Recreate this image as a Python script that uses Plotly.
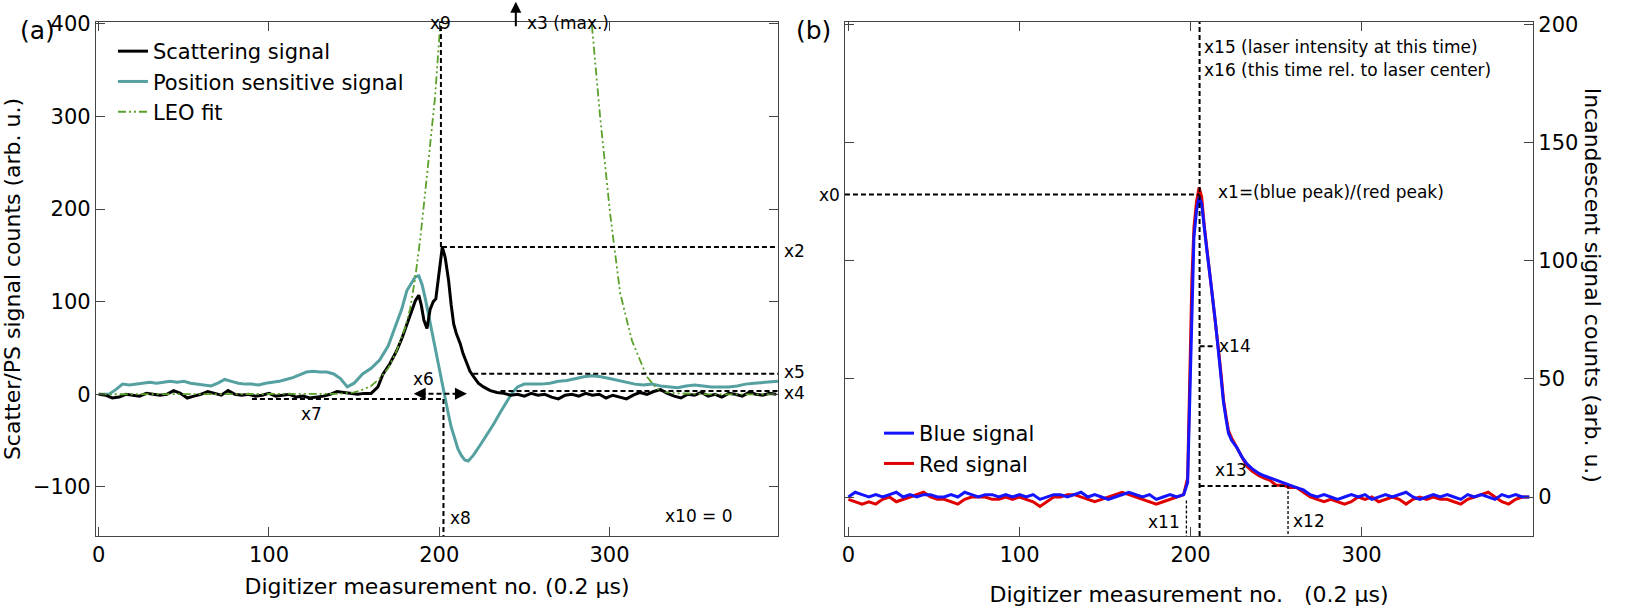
import plotly.graph_objects as go

# ---------------- panel (a): scattering / position sensitive / LEO fit ----------------
scat_x = [0, 4, 8, 12, 16, 20, 24, 28, 32, 36, 40, 44, 48, 52, 56, 60, 64, 68, 72, 76,
          80, 84, 88, 92, 96, 100, 104, 108, 112, 116, 120, 124, 128, 132, 136, 140, 144,
          148, 152, 156, 160,
          164, 167, 171, 175, 178, 181, 184, 186, 188, 189.5, 191, 192.8, 194.7, 196.5, 198,
          200, 201.8, 203.5, 205.5, 207, 208.5, 210, 212.3, 214, 216.3, 218, 220.2, 223, 226,
          230, 234, 238, 242, 246,
          250, 254, 258, 262, 266, 270, 274, 278, 282, 286, 290, 294, 298, 302, 306, 310,
          314, 318, 322, 326, 330, 334, 338, 342, 346, 350, 354, 358, 362, 366, 370, 374,
          378, 382, 386, 390, 394, 398]
scat_y = [0, -1, -4, -3, 0, -1, -2, 1, 0, -1, 0, 4, 1, -4, -2, 0, 3, 1, -1, 4,
          0, -1, 0, -2, -1, 1, -2, -1, 0, -3, -2, -4, -3, -2, 0, 3, 2,
          1, 0, 1, 1,
          8, 22, 33, 47, 60, 76, 92, 101, 107, 96, 80, 71, 92, 100, 103,
          132, 159, 148, 123, 97, 76, 66, 55, 44, 33, 25, 19, 12, 8,
          4, 2, 1, -1, 0,
          -2, 1, -1, 0, -3, -5, -1, 0, -2, 1, -1, 0, -4, -1, -3, -5,
          -1, 2, 0, 3, 5, 1, -2, -4, 0, -1, 2, -2, 0, -3, 1, 0,
          -2, 2, 0, -1, 1, 0]

ps_x = [0, 6, 10, 14, 18, 22, 26, 30, 34, 38, 42, 46, 50, 54, 58, 62, 66, 70, 74, 78,
        82, 86, 90, 94, 98, 102, 106, 110, 114, 118, 122, 126, 130, 134, 138, 142, 146,
        150, 155, 160, 165, 170, 175, 178, 181, 184, 186, 188,
        190, 192, 195, 197, 199, 201, 203, 205, 207, 209, 211, 213, 215, 217, 220, 224,
        228, 232, 236, 240, 243, 246,
        250, 255, 260, 265, 270, 275, 280, 285, 290, 295, 300, 305, 310, 315, 320, 325,
        330, 335, 340, 345, 350, 355, 360, 365, 370, 375, 380, 385, 390, 395, 399]
ps_y = [0, 0, 5, 11, 10, 11, 12, 13, 12, 13, 14, 13, 14, 12, 11, 10, 9, 12, 16, 14,
        12, 11, 11, 10, 12, 13, 14, 16, 18, 21, 24, 25, 24, 24, 22, 17, 8,
        12, 22, 28, 37, 52, 76, 92, 112, 122, 127, 128,
        118, 102, 74, 56, 38, 16, -3, -18, -35, -47, -59, -66, -71, -72, -66, -55,
        -44, -32, -19, -7, 2, 8,
        11, 11, 11, 12, 14, 15, 17, 19, 20, 19, 17, 15, 13, 11, 10, 11,
        9, 8, 7, 9, 10, 9, 8, 8, 8, 9, 11, 12, 13, 14, 14]

# LEO fit leaves the frame between the two branches
leo_x = [0, 30, 60, 90, 120, 140, 150, 155, 160, 165, 170, 175, 180, 183, 186, 188.8,
         192, 195, 197.5, 200.6, None,
         289.7, 294.5, 300.4, 306.3, 313.2, 322, 327.8, 334, 340, 360, 380, 399]
leo_y = [0, 0, 0, 0, 0, 0.5, 2, 5, 9, 17, 28, 47, 72, 93, 127, 167,
         222, 272, 320, 399, None,
         398, 300, 195, 109, 58, 19, 6, 2, 1, 0, 0, 0]

# ---------------- panel (b): incandescence ----------------
inc_x = [0, 4, 8, 12, 16, 20, 24, 28, 32, 36, 40, 44, 48, 52, 56, 60, 64, 68, 72, 76,
         80, 84, 88, 92, 96, 100, 104, 108, 112, 116, 120, 124, 128, 132, 136, 140, 144,
         148, 152, 156, 160, 164, 168, 172, 176, 180, 184, 188, 192, 196,
         198.3, 199.5, 200.8, 202, 203.5, 205, 206.5, 208, 209.6, 211.5, 213, 214.4,
         216.4, 218, 219.3, 221, 222.2, 224, 227, 230, 233, 236, 240, 243, 246.6, 250,
         254, 258, 262, 266, 270,
         274, 278, 282, 286, 290, 294, 298, 302, 306, 310, 314, 318, 322, 326, 330, 334,
         338, 342, 346, 350, 354, 358, 362, 366, 370, 374, 378, 382, 386, 390, 394, 398]
blue_y = [0, 2, 1, 0, 1, 0, 1, 2, 0, 1, 0, 1, 1, 0, 0, 1, 0, 2, 1, 0,
          1, 1, 0, 1, 0, 1, 0, 1, -1, 0, 1, 1, 0, 1, 2, 0, 1,
          0, -1, 0, 1, 2, 1, 0, 1, -1, 0, 1, 0, 1,
          6, 40, 88, 110, 121, 127, 124, 113, 104, 93, 84, 75,
          61, 50, 40, 32, 27, 24, 21, 17, 14, 12, 10, 9, 8, 7,
          6, 5, 4, 3, 1,
          0, 1, 0, -1, 0, 1, 0, 1, -1, 0, 1, 0, 1, 2, 0, -1,
          0, 1, 0, 1, 0, -1, 1, 0, 1, 0, -1, 1, 0, 1, 0, 0]
red_y = [-1, -2, -3, -2, -3, -1, 0, -2, -1, 0, 1, 2, 0, -1, -1, -2, -3, -1, 0, 0,
         0, -1, -1, 0, -1, 0, -1, -2, -4, -2, 0, 0, 1, 1, 0, -1, -2,
         -1, 0, 1, 2, 1, 0, -1, -2, -3, -2, -1, 0, 1,
         8, 44, 92, 114, 125, 131, 127, 115, 105, 94, 85, 75,
         62, 51, 41, 33, 28, 25, 21, 17, 13, 11, 9, 8, 7, 5,
         5, 4, 4, 2, 0,
         -1, -2, -1, -2, -3, -2, 0, -1, 0, -2, -1, 0, -1, -3, -1, 0,
         -1, 0, -1, -1, -2, -3, -1, 0, 1, 2, 0, -2, -3, -1, 0, 0]

# marker positions of the annotated quantities
A_PEAK_X, A_PEAK = 201.6, 159
A_X5, A_X4, A_X7 = 22.3, 3.6, -5
A_X8 = 202.5
B_CENTER, B_X0, B_X14, B_X13 = 205.3, 128, 63.8, 4.7
B_X11, B_X12 = 197.6, 257

FONT = "DejaVu Sans"
TEAL = "#55a0a0"
GREEN = "#5aa02a"
DASH = "5px,3px"

fig = go.Figure()
fig.add_trace(go.Scatter(x=ps_x, y=ps_y, mode="lines", name="Position sensitive signal",
                         line=dict(color=TEAL, width=3), legendrank=2))
fig.add_trace(go.Scatter(x=scat_x, y=scat_y, mode="lines", name="Scattering signal",
                         line=dict(color="black", width=3), legendrank=1))
fig.add_trace(go.Scatter(x=leo_x, y=leo_y, mode="lines", name="LEO fit",
                         line=dict(color=GREEN, width=1.8, dash="8px,3px,2px,3px,2px,3px"),
                         legendrank=3))
fig.add_trace(go.Scatter(x=inc_x, y=red_y, mode="lines", name="Red signal",
                         line=dict(color="#e00000", width=3), xaxis="x2", yaxis="y2",
                         legend="legend2", legendrank=2))
fig.add_trace(go.Scatter(x=inc_x, y=blue_y, mode="lines", name="Blue signal",
                         line=dict(color="#1414ff", width=3), xaxis="x2", yaxis="y2",
                         legend="legend2", legendrank=1))


def dline(x0, y0, x1, y1, ref="", width=2, dash=DASH):
    fig.add_shape(type="line", x0=x0, y0=y0, x1=x1, y1=y1, xref="x" + ref, yref="y" + ref,
                  line=dict(color="black", width=width, dash=dash))


# panel (a) marker lines
dline(A_PEAK_X - 0.6, A_PEAK, A_PEAK_X - 0.6, 402)
dline(A_PEAK_X, A_PEAK, 399, A_PEAK)
dline(220, A_X5, 399, A_X5)
dline(236, A_X4, 399, A_X4)
dline(90, A_X7, A_X8, A_X7)
dline(A_X8, A_X7, A_X8, -153)
dline(189, 0.7, 212, 0.7)
# panel (b) marker lines
dline(B_CENTER, -16.5, B_CENTER, 201, "2")
dline(-2, B_X0, B_CENTER, B_X0, "2")
dline(B_CENTER, B_X14, 214.5, B_X14, "2")
dline(B_CENTER, B_X13, B_X12, B_X13, "2")
dline(B_X12, B_X13, B_X12, -16.5, "2", width=1.3, dash="3px,2px")
dline(B_X11, -1.5, B_X11, -16.5, "2", width=1.3, dash="3px,2px")

ann_font = dict(family=FONT, size=17, color="black")
annotations = [
    dict(text="(a)", x=-0.0543, y=1.016, xref="paper", yref="paper", showarrow=False,
         font=dict(family=FONT, size=25, color="black")),
    dict(text="(b)", x=0.4996, y=1.016, xref="paper", yref="paper", showarrow=False,
         font=dict(family=FONT, size=25, color="black")),
    dict(text="x9", x=200.6, y=1.021, xref="x", yref="paper", showarrow=False),
    dict(text="x3 (max.)", x=250.5, y=1.021, xref="x", yref="paper", xanchor="left",
         showarrow=False),
    dict(text="", x=245, y=1.0395, xref="x", yref="paper", ax=0, ay=26, showarrow=True,
         arrowhead=2, arrowsize=1.1, arrowwidth=2, arrowcolor="black"),
    dict(text="x2", x=0.4774, y=A_PEAK - 4, xref="paper", yref="y", xanchor="left",
         showarrow=False),
    dict(text="x5", x=0.4774, y=A_X5 + 2, xref="paper", yref="y", xanchor="left",
         showarrow=False),
    dict(text="x4", x=0.4774, y=A_X4 - 2, xref="paper", yref="y", xanchor="left",
         showarrow=False),
    dict(text="x6", x=190.6, y=16, xref="x", yref="y", showarrow=False),
    dict(text="x7", x=124.8, y=-21, xref="x", yref="y", showarrow=False),
    dict(text="x8", x=205, y=-134, xref="x", yref="y", xanchor="left", showarrow=False),
    dict(text="x10 = 0", x=352.7, y=-131, xref="x", yref="y", showarrow=False),
    dict(text="", x=185, y=0.7, ax=192, ay=0.7, xref="x", yref="y", axref="x", ayref="y",
         showarrow=True, arrowhead=2, arrowsize=1.2, arrowwidth=2, arrowcolor="black"),
    dict(text="", x=216.3, y=0.7, ax=209.5, ay=0.7, xref="x", yref="y", axref="x", ayref="y",
         showarrow=True, arrowhead=2, arrowsize=1.2, arrowwidth=2, arrowcolor="black"),
    dict(text="x15 (laser intensity at this time)", x=B_CENTER + 1.5, y=190.4, xref="x2",
         yref="y2", xanchor="left", showarrow=False),
    dict(text="x16 (this time rel. to laser center)", x=B_CENTER + 1.5, y=180.6, xref="x2",
         yref="y2", xanchor="left", showarrow=False),
    dict(text="x0", x=0.5191, y=B_X0, xref="paper", yref="y2", xanchor="right",
         showarrow=False),
    dict(text="x1=(blue peak)/(red peak)", x=215, y=129, xref="x2", yref="y2",
         xanchor="left", showarrow=False),
    dict(text="x14", x=215.3, y=B_X14, xref="x2", yref="y2", xanchor="left",
         showarrow=False),
    dict(text="x13", x=213, y=11.3, xref="x2", yref="y2", xanchor="left", showarrow=False),
    dict(text="x12", x=B_X12 + 1.5, y=-10, xref="x2", yref="y2", xanchor="left",
         showarrow=False),
    dict(text="x11", x=B_X11 - 2.5, y=-10.6, xref="x2", yref="y2", xanchor="right",
         showarrow=False),
    dict(text="Incandescent signal counts (arb. u.)", x=1.0515, y=0.488, xref="paper",
         yref="paper", textangle=90, showarrow=False,
         font=dict(family=FONT, size=22, color="black")),
]
for a in annotations:
    a.setdefault("font", ann_font)
fig.update_layout(annotations=annotations)

axis_common = dict(showline=True, linecolor="#444", linewidth=1.3, mirror="ticks",
                   ticks="inside", ticklen=9, tickwidth=1.3, tickcolor="#444",
                   showgrid=False, zeroline=False, automargin=False,
                   tickfont=dict(family=FONT, size=21, color="black"))
title_font = dict(family=FONT, size=22, color="black")

fig.update_layout(
    width=1632, height=611,
    margin=dict(l=96, r=99, t=22, b=75),
    paper_bgcolor="white", plot_bgcolor="white",
    xaxis=dict(domain=[0, 0.4746], range=[-1.6, 399], tickvals=[0, 100, 200, 300],
               title=dict(text="Digitizer measurement no. (0.2 µs)", font=title_font,
                          standoff=12), **axis_common),
    yaxis=dict(range=[-153, 402], tickvals=[-100, 0, 100, 200, 300, 400],
               title=dict(text="Scatter/PS signal counts (arb. u.)", font=title_font,
                          standoff=14), **axis_common),
    xaxis2=dict(domain=[0.5212, 1], range=[-2, 400.2], tickvals=[0, 100, 200, 300],
                anchor="y2",
                title=dict(text="Digitizer measurement no.\u00a0\u00a0 (0.2 µs)",
                           font=title_font, standoff=20), **axis_common),
    yaxis2=dict(range=[-16.5, 201], tickvals=[0, 50, 100, 150, 200], anchor="x2",
                side="right", **axis_common),
    showlegend=True,
    legend=dict(x=0.0118, y=0.9825, xanchor="left", yanchor="top", bgcolor="rgba(0,0,0,0)",
                font=dict(family=FONT, size=21, color="black"), traceorder="normal"),
    legend2=dict(x=0.5449, y=0.2393, xanchor="left", yanchor="top", bgcolor="rgba(0,0,0,0)",
                 font=dict(family=FONT, size=21, color="black"), traceorder="normal"),
    font=dict(family=FONT, color="black"),
)

fig.write_html("out.html", config={"displayModeBar": False},
               post_script="document.body.style.margin='0';")
